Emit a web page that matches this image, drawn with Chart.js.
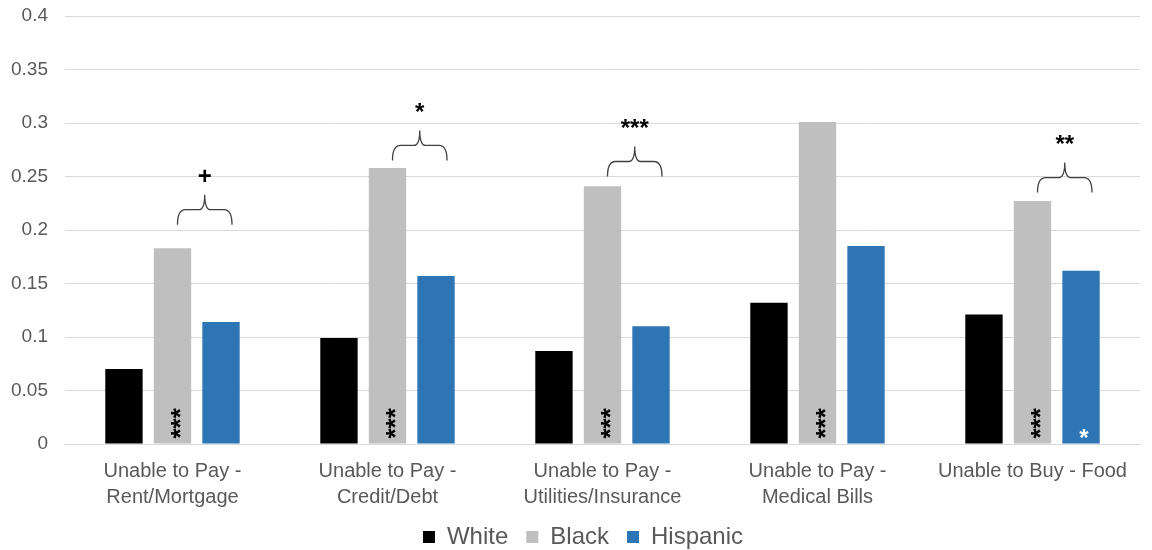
<!DOCTYPE html>
<html>
<head>
<meta charset="utf-8">
<script src="https://cdn.jsdelivr.net/npm/chart.js@4/dist/chart.umd.min.js"></script>
<style>
  html, body { margin: 0; padding: 0; background: #fff; }
  #wrap { width: 1152px; height: 550px; }
</style>
</head>
<body>
<div id="wrap"><canvas id="chart"></canvas></div>
<script>
const categories = [
  ['Unable to Pay -', 'Rent/Mortgage'],
  ['Unable to Pay -', 'Credit/Debt'],
  ['Unable to Pay -', 'Utilities/Insurance'],
  ['Unable to Pay -', 'Medical Bills'],
  'Unable to Buy - Food'
];
const white = [0.070, 0.099, 0.087, 0.132, 0.121];
const black = [0.183, 0.258, 0.241, 0.301, 0.227];
const hispanic = [0.114, 0.157, 0.110, 0.185, 0.162];

// significance markers: inside the Black / Hispanic bars, and over the Black–Hispanic brace
const blackSig = ['***', '***', '***', '***', '***'];
const hispanicSig = ['', '', '', '', '*'];
const gapSig = ['+', '*', '***', '', '**'];
const braceLevel = [0.205, 0.265, 0.250, null, 0.235];

const TXT = '#595959';
const FONT = '"Liberation Sans", Arial, sans-serif';

const markers = {
  id: 'markers',
  afterLayout(chart) {
    // nudge the legend row right a little
    chart.legend.left += 16;
    chart.legend.right += 16;
  },
  afterDatasetsDraw(chart) {
    const ctx = chart.ctx;
    const y = chart.scales.y;
    const bMeta = chart.getDatasetMeta(1).data;
    const hMeta = chart.getDatasetMeta(2).data;
    ctx.save();
    categories.forEach((c, i) => {
      const b = bMeta[i], h = hMeta[i];
      // rotated stars at the foot of the Black bar
      if (blackSig[i]) {
        ctx.save();
        ctx.translate(b.x + 4, b.base - 5);
        ctx.rotate(-Math.PI / 2);
        ctx.fillStyle = '#000';
        ctx.font = 'bold 26px ' + FONT;
        ctx.textAlign = 'left';
        ctx.textBaseline = 'middle';
        ctx.fillText(blackSig[i], 0, 5);
        ctx.restore();
      }
      if (hispanicSig[i]) {
        ctx.fillStyle = '#fff';
        ctx.font = 'bold 24px ' + FONT;
        ctx.textAlign = 'center';
        ctx.textBaseline = 'bottom';
        ctx.fillText(hispanicSig[i], h.x + 3, h.base + 8);
      }
      if (braceLevel[i] !== null) {
        const L = b.x + 5, R = h.x + 11, M = (L + R) / 2;
        const y0 = y.getPixelForValue(braceLevel[i]);
        const y1 = y0 - 15, y2 = y0 - 30;
        ctx.strokeStyle = '#404040';
        ctx.lineWidth = 1.3;
        ctx.beginPath();
        ctx.moveTo(L, y0);
        ctx.quadraticCurveTo(L, y1, L + 8, y1);
        ctx.lineTo(M - 6, y1);
        ctx.quadraticCurveTo(M, y1, M, y2);
        ctx.quadraticCurveTo(M, y1, M + 6, y1);
        ctx.lineTo(R - 8, y1);
        ctx.quadraticCurveTo(R, y1, R, y0);
        ctx.stroke();
        ctx.fillStyle = '#000';
        ctx.font = 'bold 24px ' + FONT;
        ctx.textAlign = 'center';
        ctx.textBaseline = 'middle';
        ctx.fillText(gapSig[i], M, y2 - 17);
      }
    });
    ctx.restore();
  }
};

new Chart(document.getElementById('chart'), {
  type: 'bar',
  data: {
    labels: categories,
    datasets: [
      { label: 'White', data: white, backgroundColor: '#000000' },
      { label: 'Black', data: black, backgroundColor: '#BFBFBF' },
      { label: 'Hispanic', data: hispanic, backgroundColor: '#2E75B6' }
    ]
  },
  options: {
    responsive: true,
    maintainAspectRatio: false,
    animation: false,
    datasets: { bar: { categoryPercentage: 0.677, barPercentage: 0.77 } },
    layout: { padding: { left: -6, right: 12, top: 16, bottom: -9 } },
    scales: {
      x: {
        grid: { display: false },
        border: { color: '#d9d9d9' },
        ticks: { color: TXT, font: { family: FONT, size: 20, lineHeight: 1.3 }, maxRotation: 0, autoSkip: false, padding: 6 },
        afterFit(s) { s.height -= 9; }
      },
      y: {
        min: 0, max: 0.4,
        ticks: {
          stepSize: 0.05, color: TXT, font: { family: FONT, size: 19, lineHeight: 0.6 }, padding: 17,
          callback: v => String(Number(v.toFixed(2)))
        },
        grid: { color: '#d9d9d9', drawTicks: false },
        border: { display: false },
        afterFit(s) { s.paddingTop = 4; }
      }
    },
    plugins: {
      legend: {
        position: 'bottom',
        labels: { color: TXT, font: { family: FONT, size: 24 }, boxWidth: 12, boxHeight: 12, padding: 18 }
      },
      tooltip: { enabled: false }
    }
  },
  plugins: [markers]
});
</script>
</body>
</html>
